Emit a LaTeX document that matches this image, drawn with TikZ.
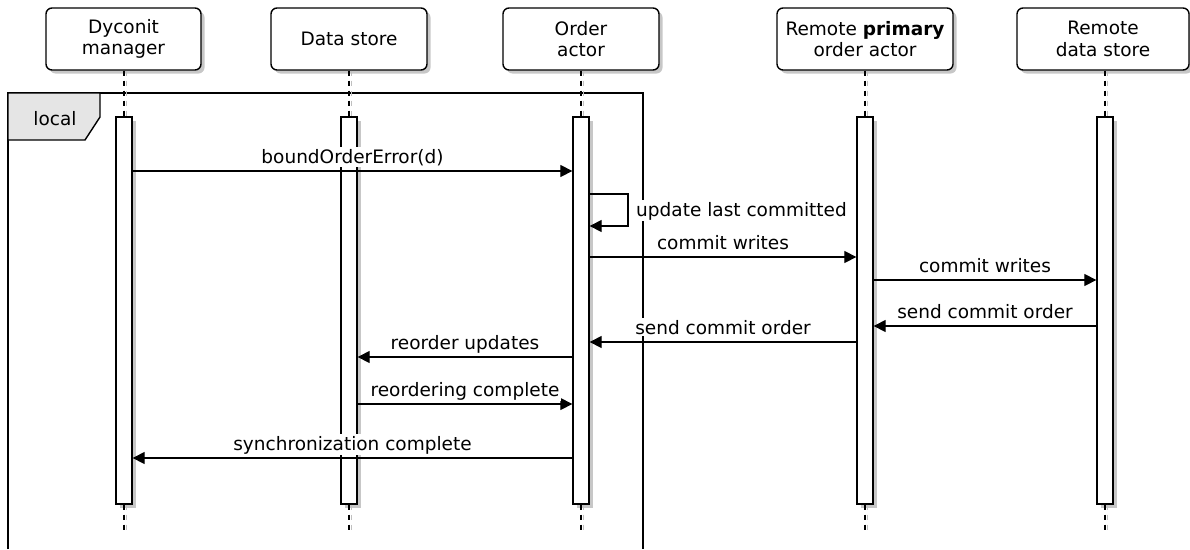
\documentclass[tikz,border=0pt]{standalone}
\usepackage{fontspec}
\setmainfont{DejaVu Sans}
\usetikzlibrary{arrows.meta}
\newcommand\seqfont{\fontsize{18.5pt}{21.5pt}\selectfont}
\begin{document}
\begin{tikzpicture}[x=1pt,y=-1pt,
  font=\seqfont,
  softshadow/.style={preaction={fill=black!22,draw=none,transform canvas={xshift=3.5pt,yshift=-3.5pt}}},
  participant/.style={draw,line width=1.4pt,rounded corners=6pt,fill=white,align=center,
    minimum height=62pt,inner sep=0pt,softshadow},
  actbar/.style={draw,line width=1.3pt,fill=white,minimum width=16pt,minimum height=387pt,
    inner sep=0pt,softshadow},
  lifeline/.style={line width=1.2pt,dash pattern=on 5pt off 5pt,
    preaction={draw=black!25,dash pattern=on 5pt off 5pt,transform canvas={xshift=2pt}}},
  msg/.style={line width=1.2pt,-{Triangle[length=12pt,width=12pt]}},
  msglabel/.style={fill=white,inner sep=1.5pt,anchor=base,yshift=8pt},
  framebox/.style={line width=1.4pt},
  tabbox/.style={line width=1.4pt,fill=black!10}
]
\useasboundingbox (0,0) rectangle (1190,549);

% participants
\node[participant,minimum width=155pt] (dm)  at (123.5,39) {Dyconit\\manager};
\node[participant,minimum width=156pt] (ds)  at (349,39)   {Data store};
\node[participant,minimum width=156pt] (oa)  at (581,39)   {Order\\actor};
\node[participant,minimum width=176pt] (rpa) at (865,39)   {Remote \textbf{primary}\\order actor};
\node[participant,minimum width=172pt] (rds) at (1103,39)  {Remote\\data store};

% the "local" fragment
\draw[framebox] (8,549) -- (8,93) -- (643,93) -- (643,549);
\draw[tabbox] (8,93) -- (100,93) -- (100,117) -- (85,140) -- (8,140) -- cycle;
\node[anchor=base,inner sep=0pt] (loc) at (55,125) {local};

% activation bars
\node[actbar] (dmb)  at (124,310.5)  {};
\node[actbar] (dsb)  at (349,310.5)  {};
\node[actbar] (oab)  at (581,310.5)  {};
\node[actbar] (rpab) at (865,310.5)  {};
\node[actbar] (rdsb) at (1105,310.5) {};

% lifeline ends
\coordinate (dme)  at (124,534);
\coordinate (dse)  at (349,534);
\coordinate (oae)  at (581,534);
\coordinate (rpae) at (865,534);
\coordinate (rdse) at (1105,534);

% lifelines
\draw[lifeline] (dmb.north |- dm.south) -- (dmb.north);
\draw[lifeline] (dsb.north |- ds.south) -- (dsb.north);
\draw[lifeline] (oab.north |- oa.south) -- (oab.north);
\draw[lifeline] (rpab.north |- rpa.south) -- (rpab.north);
\draw[lifeline] (rdsb.north |- rds.south) -- (rdsb.north);
\draw[lifeline] (dmb.south) -- (dme);
\draw[lifeline] (dsb.south) -- (dse);
\draw[lifeline] (oab.south) -- (oae);
\draw[lifeline] (rpab.south) -- (rpae);
\draw[lifeline] (rdsb.south) -- (rdse);

% message rows
\coordinate (m1) at (0,171);
\coordinate (s1) at (628,194);
\coordinate (s2) at (628,226);
\coordinate (m3) at (0,257);
\coordinate (m4) at (0,280);
\coordinate (m5) at (0,326);
\coordinate (m6) at (0,342);
\coordinate (m7) at (0,357);
\coordinate (m8) at (0,404);
\coordinate (m9) at (0,458);

% messages
\draw[msg] (dmb.east |- m1) -- (oab.west |- m1)
  node[msglabel,midway] {boundOrderError(d)};
\draw[msg] (oab.east |- s1) -- (s1) -- (s2) -- (oab.east |- s2);
\node[anchor=base west,fill=white,inner sep=1.5pt] (selflbl) at (634.5,216) {update last committed};
\draw[msg] (oab.east |- m3) -- (rpab.west |- m3)
  node[msglabel,midway] {commit writes};
\draw[msg] (rpab.east |- m4) -- (rdsb.west |- m4)
  node[msglabel,midway] {commit writes};
\draw[msg] (rdsb.west |- m5) -- (rpab.east |- m5)
  node[msglabel,midway] {send commit order};
\draw[msg] (rpab.west |- m6) -- (oab.east |- m6)
  node[msglabel,midway] {send commit order};
\draw[msg] (oab.west |- m7) -- (dsb.east |- m7)
  node[msglabel,midway] {reorder updates};
\draw[msg] (dsb.east |- m8) -- (oab.west |- m8)
  node[msglabel,midway] {reordering complete};
\draw[msg] (oab.west |- m9) -- (dmb.east |- m9)
  node[msglabel,midway] {synchronization complete};
\end{tikzpicture}
\end{document}
